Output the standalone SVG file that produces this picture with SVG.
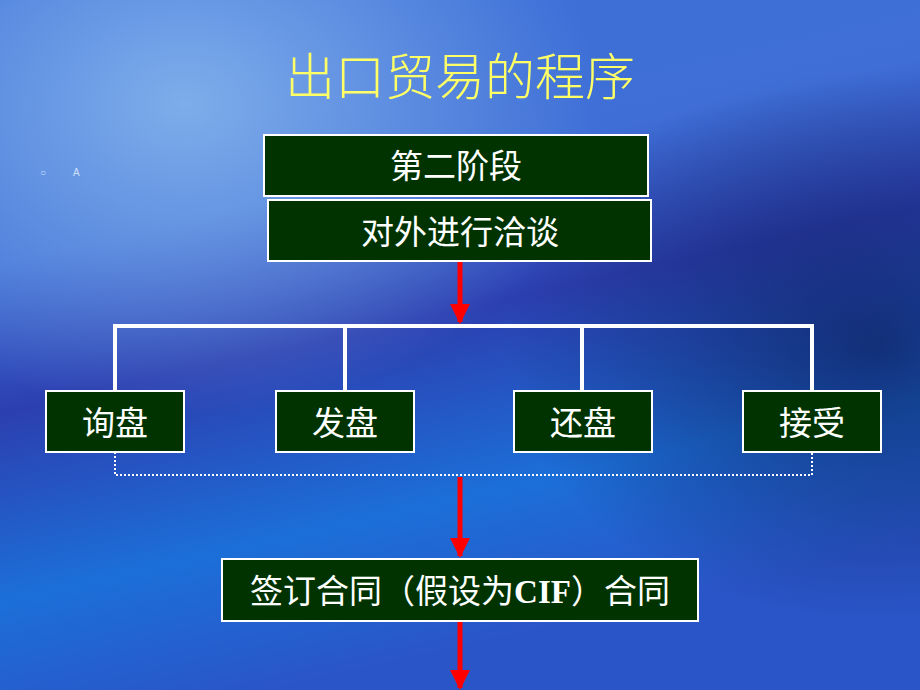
<svg xmlns="http://www.w3.org/2000/svg" width="920" height="690" viewBox="0 0 920 690">
<defs>
<linearGradient id="bg" x1="0" y1="0" x2="0.3" y2="1">
<stop offset="0" stop-color="#3a6fd8"/>
<stop offset="0.35" stop-color="#3f6fd6"/>
<stop offset="0.55" stop-color="#2c3fb0"/>
<stop offset="0.8" stop-color="#1c6fd8"/>
<stop offset="1" stop-color="#2a55c8"/>
</linearGradient>
<radialGradient id="hl" cx="0.2" cy="0.15" r="0.45">
<stop offset="0" stop-color="#8ab8ee" stop-opacity="0.85"/>
<stop offset="1" stop-color="#8ab8ee" stop-opacity="0"/>
</radialGradient>
<radialGradient id="dk" cx="0.95" cy="0.5" r="0.4">
<stop offset="0" stop-color="#0c1a55" stop-opacity="0.7"/>
<stop offset="1" stop-color="#0c1a55" stop-opacity="0"/>
</radialGradient>
<marker id="ah" viewBox="0 0 10 10" refX="9" refY="5" markerWidth="4" markerHeight="4" orient="auto" markerUnits="strokeWidth">
<path d="M0,0 L10,5 L0,10 z" fill="#ff0000"/>
</marker>
<style>
.box{fill:#003300;stroke:#ffffff;stroke-width:2}
.t{font-family:"Noto Sans CJK SC","Liberation Serif",serif;fill:#ffffff;font-size:33px;text-anchor:middle}
.w{stroke:#ffffff;stroke-width:4;fill:none}
.r{stroke:#ff0000;stroke-width:5;fill:none;marker-end:url(#ah)}
</style>
</defs>
<rect width="920" height="690" fill="url(#bg)"/>
<rect width="920" height="690" fill="url(#hl)"/>
<rect width="920" height="690" fill="url(#dk)"/>
<text x="460" y="95" font-family="Noto Sans CJK SC,sans-serif" font-size="50" font-weight="300" fill="#ffff66" text-anchor="middle">出口贸易的程序</text>
<text x="40" y="176" font-family="Liberation Sans,sans-serif" font-size="10" fill="#cfe0ff">○</text>
<text x="73" y="176" font-family="Liberation Sans,sans-serif" font-size="10" fill="#cfe0ff">A</text>
<g id="connectors">
<path class="r" d="M460,262 V322"/>
<path class="w" d="M115,390 V326 H812 V390 M345,326 V390 M582,326 V390"/>
<path d="M115,452 V475 H812 V452" stroke="#ffffff" stroke-width="2" stroke-dasharray="2,2" fill="none"/>
<path class="r" d="M460,477 V556"/>
<path class="r" d="M460,622 V688"/>
</g>
<g id="n1"><rect class="box" x="264" y="135" width="384" height="61"/><text class="t" x="456" y="178">第二阶段</text></g>
<g id="n2"><rect class="box" x="268" y="200" width="383" height="61"/><text class="t" x="460" y="244">对外进行洽谈</text></g>
<g id="n3"><rect class="box" x="46" y="391" width="138" height="61"/><text class="t" x="115" y="435">询盘</text></g>
<g id="n4"><rect class="box" x="276" y="391" width="138" height="61"/><text class="t" x="345" y="435">发盘</text></g>
<g id="n5"><rect class="box" x="514" y="391" width="138" height="61"/><text class="t" x="583" y="435">还盘</text></g>
<g id="n6"><rect class="box" x="743" y="391" width="138" height="61"/><text class="t" x="812" y="435">接受</text></g>
<g id="n7"><rect class="box" x="222" y="559" width="476" height="62"/><text class="t" x="460" y="603" font-size="34">签订合同（假设为<tspan font-family="Liberation Serif" font-weight="bold">CIF</tspan>）合同</text></g>
</svg>
